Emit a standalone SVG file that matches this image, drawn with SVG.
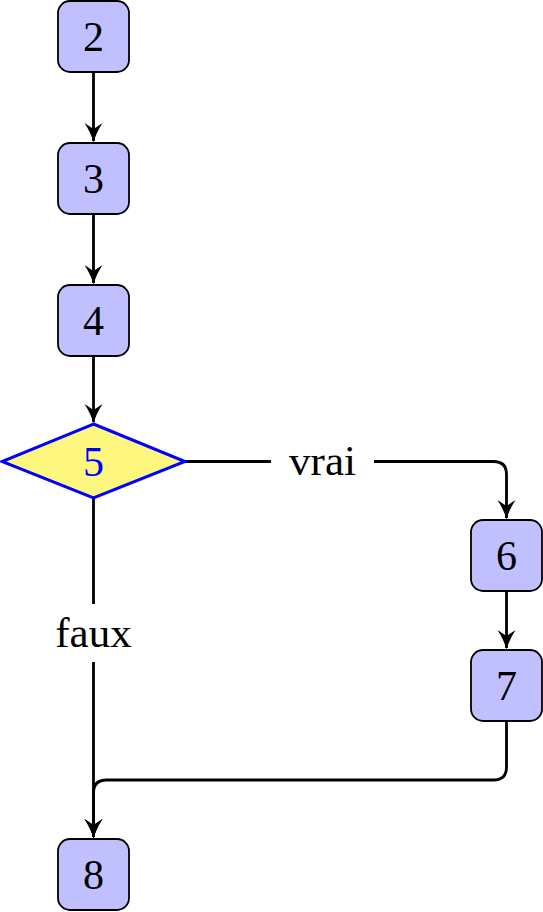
<svg xmlns="http://www.w3.org/2000/svg" width="543" height="912" viewBox="0 0 543 912">
<style>
.box{fill:#c0c0ff;stroke:#000;stroke-width:1.8}
.dia{fill:#fdf780;stroke:#0000ff;stroke-width:3}
.num{font-family:"Liberation Serif","Times New Roman",serif;font-size:42px;text-anchor:middle}
.lbl{font-family:"Liberation Serif","Times New Roman",serif;font-size:43px;text-anchor:middle}
.edge{fill:none;stroke:#000;stroke-width:2.8}
</style>
<defs>
<marker id="arr" markerUnits="userSpaceOnUse" markerWidth="26" markerHeight="26" viewBox="-22 -13 26 26" refX="0" refY="0" orient="auto">
<path d="M1.5,0 Q-8,-2.5 -18,-9 L-12,0 L-18,9 Q-8,2.5 1.5,0 Z" fill="#000"/>
</marker>
</defs>
<g id="connectors">
<path class="edge" d="M93.5,72 V141" marker-end="url(#arr)"/>
<path class="edge" d="M93.5,214 V283" marker-end="url(#arr)"/>
<path class="edge" d="M93.5,356 V422" marker-end="url(#arr)"/>
<path class="edge" d="M185,461.5 H271"/>
<path class="edge" d="M374,461.5 H493.5 Q506.5,461.5 506.5,474.5 V518" marker-end="url(#arr)"/>
<path class="edge" d="M93.5,498 V604"/>
<path class="edge" d="M93.5,662 V837" marker-end="url(#arr)"/>
<path class="edge" d="M506.5,591 V648" marker-end="url(#arr)"/>
<path class="edge" d="M506.5,721 V767 Q506.5,780 493.5,780 H106.5 Q93.5,780 93.5,793 V837" marker-end="url(#arr)"/>
<text class="lbl" x="322.5" y="475">vrai</text>
<text class="lbl" x="93.5" y="647">faux</text>
</g>
<g id="n2"><rect class="box" x="58" y="1" width="71" height="71" rx="12"/><text class="num" x="93.5" y="51">2</text></g>
<g id="n3"><rect class="box" x="58" y="143" width="71" height="71" rx="12"/><text class="num" x="93.5" y="193">3</text></g>
<g id="n4"><rect class="box" x="58" y="285" width="71" height="71" rx="12"/><text class="num" x="93.5" y="335">4</text></g>
<g id="n5"><polygon class="dia" points="93.5,424 185,461.5 93.5,498 2,461.5"/><text class="num" x="93.5" y="476" fill="#0000ff">5</text></g>
<g id="n6"><rect class="box" x="471" y="520" width="71" height="71" rx="12"/><text class="num" x="506.5" y="570">6</text></g>
<g id="n7"><rect class="box" x="471" y="650" width="71" height="71" rx="12"/><text class="num" x="506.5" y="700">7</text></g>
<g id="n8"><rect class="box" x="58" y="839" width="71" height="71" rx="12"/><text class="num" x="93.5" y="889">8</text></g>
</svg>
